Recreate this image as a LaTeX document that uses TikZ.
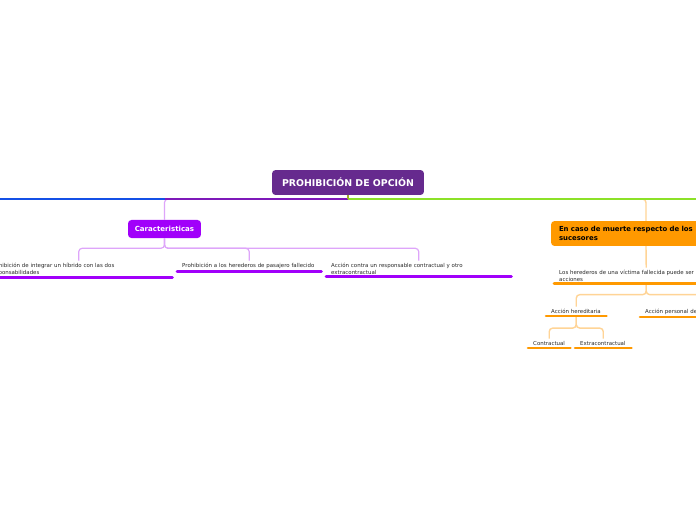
\documentclass[tikz,border=0pt]{standalone}
\usepackage{fontspec}
\setmainfont{DejaVu Sans}
\usepackage{xcolor}
\usetikzlibrary{positioning}
\definecolor{mainpurple}{RGB}{102,42,142}
\definecolor{topicviolet}{RGB}{161,0,250}
\definecolor{lightviolet}{RGB}{222,165,250}
\definecolor{linkblue}{RGB}{20,80,230}
\definecolor{linkgreen}{RGB}{140,225,40}
\definecolor{stubolive}{RGB}{160,175,40}
\definecolor{mainorange}{RGB}{255,153,0}
\definecolor{lightorange}{RGB}{255,212,150}
\definecolor{leaftext}{RGB}{40,40,40}
\tikzstyle{topic} = [rectangle, rounded corners=3pt, inner sep=0pt, text=white, font=\bfseries]
\tikzstyle{leaf} = [anchor=north west, align=left, inner xsep=4.27pt, inner ysep=2pt, text=leaftext, font=\fontsize{4.65}{5.6}\selectfont]
\tikzstyle{linkP} = [lightviolet, line width=1pt, rounded corners=3pt]
\tikzstyle{linkO} = [lightorange, line width=1.2pt, rounded corners=3pt]
\tikzstyle{ulineP} = [topicviolet, line width=2.4pt, line cap=round]
\tikzstyle{ulineO} = [mainorange, line width=2.2pt, line cap=round]

\begin{document}
\begin{tikzpicture}[x=0.03cm, y=-0.03cm]
    % Canvas
    \path[use as bounding box, fill=white] (0,0) rectangle (696,520);
    \clip (0,0) rectangle (696,520);

    % Central topic
    \node (main) [topic, fill=mainpurple, minimum width=129.7pt, minimum height=21.3pt, font=\bfseries\fontsize{8}{9}\selectfont] at (348,182.5) {PROHIBICIÓN DE OPCIÓN};
    \coordinate (hub) at (348,199);
    \coordinate (farleft) at (-20,199);
    \coordinate (farright) at (720,199);

    % Main topics
    \node (carac) [topic, fill=topicviolet, minimum width=62.3pt, minimum height=15.4pt, font=\bfseries\fontsize{6}{7}\selectfont] at (164.5,229) {Caracteristicas};
    \node (muerte) [topic, fill=mainorange, text=black, align=left, text width=148.5pt, inner xsep=6.8pt, minimum height=21.3pt, font=\bfseries\fontsize{5.9}{7.3}\selectfont] at (646,233.5) {En caso de muerte respecto de los\\sucesores};

    % Main line
    \draw[linkP] (hub) -| (carac.north);
    \draw[linkO] (hub) -| (muerte.north);
    \draw[linkblue, line width=1pt] (farleft) -- (carac.north |- hub);
    \draw[mainpurple!60!topicviolet, line width=1pt] (carac.north |- hub) -- (hub);
    \draw[linkgreen, line width=1pt] (hub) -- (farright);
    \draw[stubolive, line width=1pt] (main.south) -- (hub);

    % Caracteristicas subtopics
    \node (prohib1) [leaf, text width=151pt] at (-15,260.5) {Prohibición de integrar un híbrido con las dos\\responsabilidades};
    \node (prohib2) [leaf, text width=114.4pt] at (177,260.5) {Prohibición a los herederos de pasajero fallecido};
    \node (accion) [leaf, text width=149.4pt] at (326,260.5) {Acción contra un responsable contractual y otro\\extracontractual};

    \foreach \n in {prohib1, prohib2, accion} {
        \draw[linkP] (carac.south) -- ++(0,10) -| (\n.north);
        \draw[ulineP] (\n.south west) -- (\n.south east);
    }

    % Sucesores subtopics
    \node (heredero) [leaf, text width=148.5pt] at (554,267.5) {Los herederos de una víctima fallecida puede ser\\acciones};
    \node (acher) [leaf, text width=42.7pt] at (546,306.5) {Acción hereditaria};
    \node (acper) [leaf, text width=123pt] at (640,306.5) {Acción personal de};
    \node (contr) [leaf, text width=27.3pt] at (528,338.5) {Contractual};
    \node (extra) [leaf, text width=39.3pt] at (575,338.5) {Extracontractual};

    \draw[linkO] (muerte.south) -- (heredero.north);
    \foreach \n in {acher, acper}
        \draw[linkO] (heredero.south) -- ++(0,11) -| (\n.north);
    \foreach \n in {contr, extra}
        \draw[linkO] (acher.south) -- ++(0,12) -| (\n.north);

    \foreach \n in {heredero, acher, acper, contr, extra}
        \draw[ulineO] (\n.south west) -- (\n.south east);
\end{tikzpicture}
\end{document}
